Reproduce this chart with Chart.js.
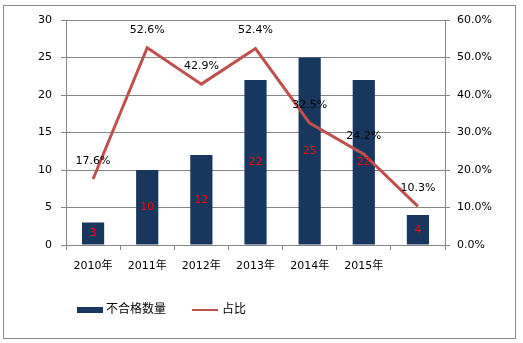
<!DOCTYPE html>
<html><head><meta charset="utf-8">
<script src="https://cdn.jsdelivr.net/npm/chart.js@4/dist/chart.umd.min.js"></script>
<style>html,body{margin:0;padding:0;background:#fff}#c{display:block}</style>
</head><body>
<canvas id="c" width="523" height="343"></canvas>
<script>
const categories = ['2010年','2011年','2012年','2013年','2014年','2015年',''];
const counts = [3,10,12,22,25,22,4];
const ratios = [17.6,52.6,42.9,52.4,32.5,24.2,10.3];
const leftTicks = [0,5,10,15,20,25,30];
const rightTicks = [0,10,20,30,40,50,60];
const seriesNames = ['不合格数量','占比'];

const FONT = "'DejaVu Sans','Noto Sans CJK SC',sans-serif";
const GRID = '#868686';

const decor = {
  id:'decor',
  afterDraw(chart){
    const ctx = chart.ctx;
    ctx.save();
    ctx.strokeStyle = '#8a8a8a'; ctx.lineWidth = 1;
    ctx.strokeRect(3.5,5.5,512,333);
    ctx.font = '11px '+FONT;
    ctx.textAlign='center'; ctx.textBaseline='middle';
    const m0 = chart.getDatasetMeta(0);
    m0.data.forEach((el,i)=>{
      ctx.fillStyle='#ff0000';
      ctx.fillText(String(counts[i]), el.x, (el.y+el.base)/2);
    });
    const m1 = chart.getDatasetMeta(1);
    m1.data.forEach((el,i)=>{
      ctx.fillStyle='#000';
      ctx.fillText(ratios[i].toFixed(1)+'%', el.x, el.y-18);
    });
    const ly = 310;
    ctx.fillStyle='#17375E';
    ctx.fillRect(77, ly-3, 26, 6);
    ctx.fillStyle='#000'; ctx.textAlign='left';
    ctx.font='12px '+FONT;
    ctx.fillText(seriesNames[0], 106, ly);
    ctx.strokeStyle='#C0504D'; ctx.lineWidth=2;
    ctx.beginPath(); ctx.moveTo(192,ly); ctx.lineTo(218,ly); ctx.stroke();
    ctx.fillText(seriesNames[1], 222, ly);
    ctx.restore();
  }
};

new Chart(document.getElementById('c'),{
  data:{
    labels:categories,
    datasets:[
      {type:'bar',label:seriesNames[0],data:counts,backgroundColor:'#17375E',yAxisID:'y',
       categoryPercentage:1,barPercentage:0.41,order:2},
      {type:'line',label:seriesNames[1],data:ratios,borderColor:'#C0504D',borderWidth:3,
       pointRadius:0,yAxisID:'y1',tension:0,order:1}
    ]
  },
  options:{
    responsive:false,animation:false,
    layout:{padding:{top:20,left:0,right:0,bottom:0}},
    plugins:{legend:{display:false},tooltip:{enabled:false}},
    scales:{
      x:{
        offset:true,
        grid:{display:true,drawOnChartArea:false,offset:true,tickLength:5,color:GRID},
        border:{color:GRID},
        ticks:{color:'#000',font:{size:11,family:FONT},padding:10,maxRotation:0,autoSkip:false},
        afterFit(s){s.height=98;}
      },
      y:{
        position:'left',min:0,max:30,
        afterBuildTicks(s){s.ticks=leftTicks.map(v=>({value:v}));},
        grid:{color:GRID,tickLength:5},
        border:{color:GRID},
        ticks:{color:'#000',font:{size:11,family:FONT},padding:9},
        afterFit(s){s.width=66;}
      },
      y1:{
        position:'right',min:0,max:60,
        afterBuildTicks(s){s.ticks=rightTicks.map(v=>({value:v}));},
        grid:{drawOnChartArea:false,color:GRID,tickLength:5},
        border:{color:GRID},
        ticks:{color:'#000',font:{size:11,family:FONT},padding:7,callback:v=>v.toFixed(1)+'%'},
        afterFit(s){s.width=78;}
      }
    }
  },
  plugins:[decor]
});
</script>
</body></html>
